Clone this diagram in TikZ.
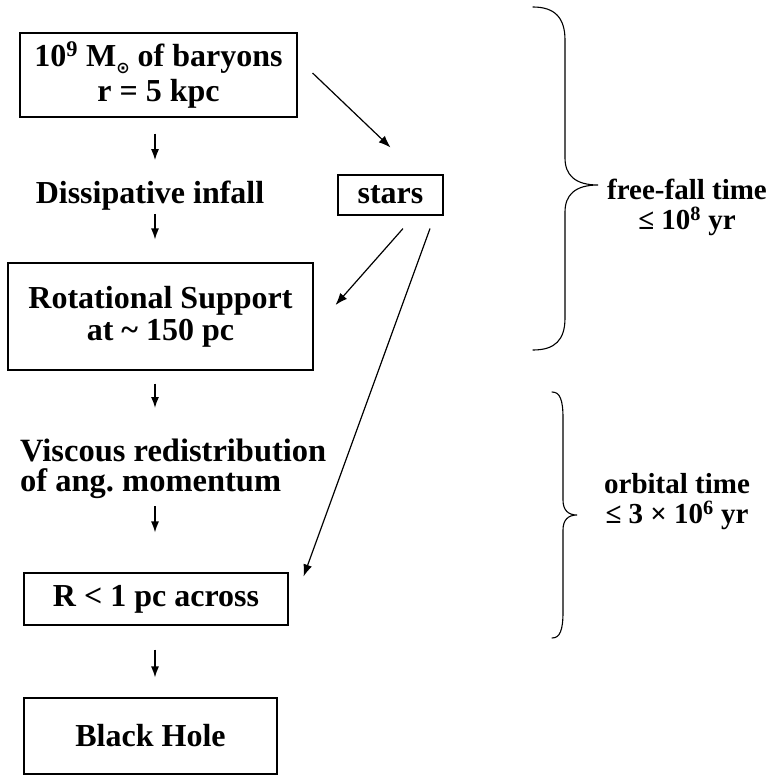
\documentclass[tikz,border=0pt]{standalone}
\usepackage{fontspec}
\setmainfont{Liberation Serif}
\newfontfamily\symf{DejaVu Sans}
\usetikzlibrary{arrows.meta}
\begin{document}
\begin{tikzpicture}[x=1pt,y=-1pt,
  txt/.style={font=\bfseries\fontsize{32}{32}\selectfont, inner sep=0pt, align=center},
  rtxt/.style={font=\bfseries\fontsize{29}{30}\selectfont, inner sep=0pt, align=center},
  boxnode/.style={txt, draw, line width=1.1pt},
  sarrow/.style={line width=1.3pt, -{Latex[length=11pt,width=8pt]}},
  darrow/.style={line width=1.2pt, -{Latex[length=12pt,width=9pt]}},
  bracel/.style={line width=1.1pt, line cap=round}
]
\useasboundingbox (0,0) rectangle (776,776);
\coordinate (ax) at (155,0);

\node[boxnode, minimum width=277pt, minimum height=84pt, font=\bfseries\fontsize{32}{35}\selectfont] (b1) at (158.5,75)
  {10\textsuperscript{9} M\raisebox{-7pt}{\symf\fontsize{16}{16}\selectfont ⊙} of baryons\\ r = 5 kpc};
\node[txt] (dis) at (150,196) {Dissipative infall};
\node[boxnode, minimum width=105pt, minimum height=40pt] (stars) at (390.5,195) {stars};
\node[boxnode, minimum width=305pt, minimum height=107pt] (b2) at (160.5,316.5)
  {Rotational Support\\ at \textasciitilde\ 150 pc};
\node[txt, align=left, anchor=north west, font=\bfseries\fontsize{32.5}{30}\selectfont] (vis) at (20,439)
  {Viscous redistribution\\ of ang.\ momentum};
\node[boxnode, minimum width=264pt, minimum height=52pt] (b3) at (156,599) {R < 1 pc across};
\node[boxnode, minimum width=253pt, minimum height=76pt] (b4) at (150.5,736) {Black Hole};

\draw[sarrow, shorten <=16pt, shorten >=21pt] (b1.south -| ax) -- (dis.north -| ax);
\draw[sarrow, shorten <=3pt, shorten >=23pt] (dis.south -| ax) -- (b2.north -| ax);
\draw[sarrow, shorten <=13pt, shorten >=31pt] (b2.south -| ax) -- (vis.north -| ax);
\draw[sarrow, shorten <=7pt, shorten >=40pt] (vis.south -| ax) -- (b3.north -| ax);
\draw[sarrow, shorten <=24pt, shorten >=20pt] (b3.south -| ax) -- (b4.north -| ax);

\draw[darrow] ([xshift=15pt,yshift=2pt]b1.east) -- ([yshift=27pt]stars.north);
\draw[darrow] ([xshift=12.5pt,yshift=-13pt]stars.south) -- ([xshift=22pt,yshift=11.5pt]b2.east);
\draw[darrow] ([xshift=39.5pt,yshift=-13pt]stars.south) -- ([xshift=15pt,yshift=-4pt]b3.north east);

\draw[bracel] (533,7) .. controls (555,7) and (565,18) .. (565,40) -- (565,158)
  .. controls (565,175) and (575,185) .. (598,185)
  .. controls (575,185) and (565,195) .. (565,212) -- (565,318)
  .. controls (565,340) and (555,350) .. (533,350);
\draw[bracel] (552,392) .. controls (560,392) and (563,400) .. (563,418) -- (563,500)
  .. controls (563,510) and (568,515) .. (577,515)
  .. controls (568,515) and (563,520) .. (563,530) -- (563,612)
  .. controls (563,630) and (560,638) .. (552,638);

\node[rtxt] (ff) at (687,207) {free-fall time\\ ≤ 10\textsuperscript{8} yr};
\node[rtxt] (orb) at (677,502) {orbital time\\ ≤ 3 × 10\textsuperscript{6} yr};
\end{tikzpicture}
\end{document}
